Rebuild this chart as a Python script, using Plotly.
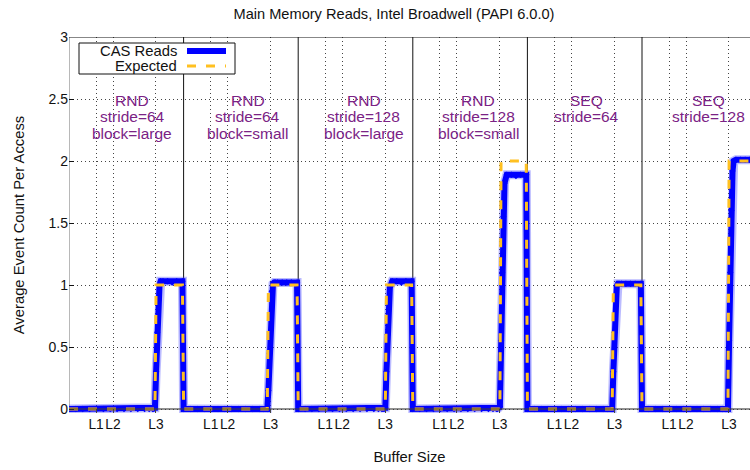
import plotly.graph_objects as go

# ---------------- data ----------------
title = "Main Memory Reads, Intel Broadwell (PAPI 6.0.0)"
segment_labels = [
    ["RND", "stride=64", "block=large"],
    ["RND", "stride=64", "block=small"],
    ["RND", "stride=128", "block=large"],
    ["RND", "stride=128", "block=small"],
    ["SEQ", "stride=64"],
    ["SEQ", "stride=128"],
]
label_x = [0.55, 1.56, 2.57, 3.57, 4.52, 5.58]
label_line_y = [2.49, 2.355, 2.22]

# positions of buffer sizes inside one segment (fraction of segment width)
offsets = [0.00, 0.06, 0.12, 0.18, 0.24, 0.30, 0.36, 0.42, 0.48, 0.54, 0.60, 0.66,
           0.70, 0.73, 0.74, 0.75, 0.76, 0.77, 0.78, 0.79, 0.80, 0.82, 0.86, 0.90,
           0.94, 0.99]

cas_seg1 = [0, 0, 0, 0, 0, 0, 0, 0, 0, 0, 0, 0, 0, 0, 0.00, 0.01, 0.30, 0.62, 0.88, 1.00, 1.03, 1.03, 1.03, 1.02, 1.03, 1.03]
cas_seg2 = [0, 0, 0, 0, 0, 0, 0, 0, 0, 0, 0, 0, 0, 0.00, 0.15, 0.45, 0.75, 0.95, 1.01, 1.02, 1.02, 1.02, 1.02, 1.02, 1.02, 1.02]
cas_seg3 = [0, 0, 0, 0, 0, 0, 0, 0, 0, 0, 0, 0, 0, 0, 0, 0.00, 0.01, 0.30, 0.60, 0.85, 0.98, 1.03, 1.03, 1.02, 1.03, 1.03]
cas_seg4 = [0, 0, 0, 0, 0, 0, 0, 0, 0, 0, 0, 0, 0, 0, 0, 0.01, 0.02, 0.55, 1.10, 1.55, 1.82, 1.89, 1.89, 1.88, 1.89, 1.89]
cas_seg5 = [0, 0, 0, 0, 0, 0, 0, 0, 0, 0, 0, 0, 0, 0, 0.00, 0.30, 0.62, 0.88, 0.99, 1.01, 1.01, 1.01, 1.01, 1.01, 1.01, 1.01]
cas_seg6 = [0, 0, 0, 0, 0, 0, 0, 0, 0, 0, 0, 0, 0, 0, 0, 0.00, 0.55, 1.10, 1.60, 1.92, 2.00, 2.01, 2.01, 2.01, 2.01, 2.01]

exp_seg1 = [0, 0, 0, 0, 0, 0, 0, 0, 0, 0, 0, 0, 0, 0, 0, 0, 1, 1, 1, 1, 1, 1, 1, 1, 1, 1]
exp_seg2 = [0, 0, 0, 0, 0, 0, 0, 0, 0, 0, 0, 0, 0, 0, 1, 1, 1, 1, 1, 1, 1, 1, 1, 1, 1, 1]
exp_seg3 = [0, 0, 0, 0, 0, 0, 0, 0, 0, 0, 0, 0, 0, 0, 0, 0, 0, 1, 1, 1, 1, 1, 1, 1, 1, 1]
exp_seg4 = [0, 0, 0, 0, 0, 0, 0, 0, 0, 0, 0, 0, 0, 0, 0, 0, 0, 2, 2, 2, 2, 2, 2, 2, 2, 2]
exp_seg5 = [0, 0, 0, 0, 0, 0, 0, 0, 0, 0, 0, 0, 0, 0, 0, 1, 1, 1, 1, 1, 1, 1, 1, 1, 1, 1]
exp_seg6 = [0, 0, 0, 0, 0, 0, 0, 0, 0, 0, 0, 0, 0, 0, 0, 0, 2, 2, 2, 2, 2, 2, 2, 2, 2, 2]

cache_tick_offsets = [0.236, 0.384, 0.759]
cache_tick_text = ["L1", "L2", "L3"]
y_ticks = [0, 0.5, 1, 1.5, 2, 2.5, 3]
y_tick_text = ["0", "0.5", "1", "1.5", "2", "2.5", "3"]

cas_all = [cas_seg1, cas_seg2, cas_seg3, cas_seg4, cas_seg5, cas_seg6]
exp_all = [exp_seg1, exp_seg2, exp_seg3, exp_seg4, exp_seg5, exp_seg6]

# ------------- build series -------------
xs, cas_y, exp_y = [], [], []
for s, (c, e) in enumerate(zip(cas_all, exp_all)):
    for o, cv, ev in zip(offsets, c, e):
        xs.append(s + o)
        cas_y.append(cv)
        exp_y.append(ev)

tickvals, ticktext = [], []
for s in range(len(cas_all)):
    for o, t in zip(cache_tick_offsets, cache_tick_text):
        tickvals.append(s + o)
        ticktext.append(t)

FONT = "Liberation Sans, Arial, Helvetica, sans-serif"
BLUE = "#0000ff"
GOLD = "#ffc020"
PURPLE = "#7b2285"
TXT = 14.8

fig = go.Figure()
fig.add_trace(go.Scatter(x=xs, y=cas_y, mode="lines", name="halo",
                         line=dict(color="rgba(60,60,255,0.35)", width=9),
                         showlegend=False, hoverinfo="skip"))
fig.add_trace(go.Scatter(x=xs, y=cas_y, mode="lines+markers", name="CAS Reads",
                         line=dict(color=BLUE, width=6),
                         marker=dict(color=BLUE, size=5, symbol="diamond"),
                         showlegend=False))
fig.add_trace(go.Scatter(x=xs, y=exp_y, mode="lines", name="Expected",
                         line=dict(color=GOLD, width=3, dash="9px,10px"),
                         showlegend=False))

W, H = 750, 470
L, T, B = 69, 37, 57
plot_w = W - L
seg_px = 114.6
xmax = plot_w / seg_px

shapes = []
# segment separators
for s in range(1, len(cas_all)):
    shapes.append(dict(type="line", xref="x", yref="y", x0=s, x1=s, y0=0, y1=3,
                       line=dict(color="#111", width=1), layer="below"))
# frame: top and left, zero axis line
shapes.append(dict(type="line", xref="paper", yref="y", x0=0, x1=1, y0=3, y1=3,
                   line=dict(color="#111", width=1.2), layer="above"))
shapes.append(dict(type="line", xref="x", yref="y", x0=0, x1=0, y0=0, y1=3,
                   line=dict(color="#888", width=1.2), layer="below"))
shapes.append(dict(type="line", xref="paper", yref="y", x0=0, x1=1, y0=0, y1=0,
                   line=dict(color="rgba(60,60,60,0.75)", width=1.5), layer="above"))

# legend box (gnuplot style: text left, sample right)
def px_to_paper(px, py):
    return (px - L) / plot_w, (H - B - py) / (H - T - B)

bx0, by0 = px_to_paper(79, 43)
bx1, by1 = px_to_paper(235, 74)
shapes.append(dict(type="rect", xref="paper", yref="paper", x0=bx0, x1=bx1, y0=by1, y1=by0,
                   line=dict(color="#111", width=1), fillcolor="white", layer="above"))
lx0, ly1 = px_to_paper(187, 51)
lx1, ly2 = px_to_paper(226, 66)
shapes.append(dict(type="line", xref="paper", yref="paper", x0=lx0, x1=lx1, y0=ly1, y1=ly1,
                   line=dict(color=BLUE, width=6), layer="above"))
shapes.append(dict(type="line", xref="paper", yref="paper", x0=lx0, x1=lx1, y0=ly2, y1=ly2,
                   line=dict(color=GOLD, width=3, dash="9px,10px"), layer="above"))

annotations = []
tx, _ = px_to_paper(179, 51)
annotations.append(dict(xref="paper", yref="paper", x=tx, y=ly1, text="CAS Reads",
                        showarrow=False, xanchor="right", yanchor="middle",
                        font=dict(family=FONT, size=TXT, color="#111")))
annotations.append(dict(xref="paper", yref="paper", x=tx, y=ly2, text="Expected",
                        showarrow=False, xanchor="right", yanchor="middle",
                        font=dict(family=FONT, size=TXT, color="#111")))
for lines, lxv in zip(segment_labels, label_x):
    for txt, ly in zip(lines, label_line_y):
        annotations.append(dict(xref="x", yref="y", x=lxv, y=ly, text=txt,
                                showarrow=False, xanchor="center", yanchor="middle",
                                font=dict(family=FONT, size=15.5, color=PURPLE)))

fig.update_layout(
    width=W, height=H,
    margin=dict(l=L, r=0, t=T, b=B, pad=0),
    paper_bgcolor="white", plot_bgcolor="white",
    showlegend=False,
    title=dict(text=title, x=394 / W, xanchor="center", y=1 - 14 / H, yanchor="middle",
               font=dict(family=FONT, size=14.6, color="#111")),
    font=dict(family=FONT, size=14, color="#111"),
    shapes=shapes,
    annotations=annotations,
    xaxis=dict(range=[0, xmax], tickmode="array", tickvals=tickvals, ticktext=ticktext,
               tickangle=0,
               showgrid=True, gridcolor="#444", griddash="1px,3px", gridwidth=1,
               zeroline=False, showline=False,
               ticks="inside", ticklen=4, tickcolor="#444",
               ticklabelstandoff=1,
               tickfont=dict(family=FONT, size=13.8, color="#111"),
               title=dict(text="Buffer Size", font=dict(family=FONT, size=TXT, color="#111"),
                          standoff=20)),
    yaxis=dict(range=[-0.032, 3], tickmode="array", tickvals=y_ticks, ticktext=y_tick_text,
               showgrid=True, gridcolor="#444", griddash="1px,3px", gridwidth=1,
               zeroline=False, showline=False,
               ticks="inside", ticklen=5, tickcolor="#111",
               tickfont=dict(family=FONT, size=14, color="#111"),
               title=dict(text="Average Event Count Per Access",
                          font=dict(family=FONT, size=TXT, color="#111"), standoff=20)),
)

fig.write_html("out.html")
